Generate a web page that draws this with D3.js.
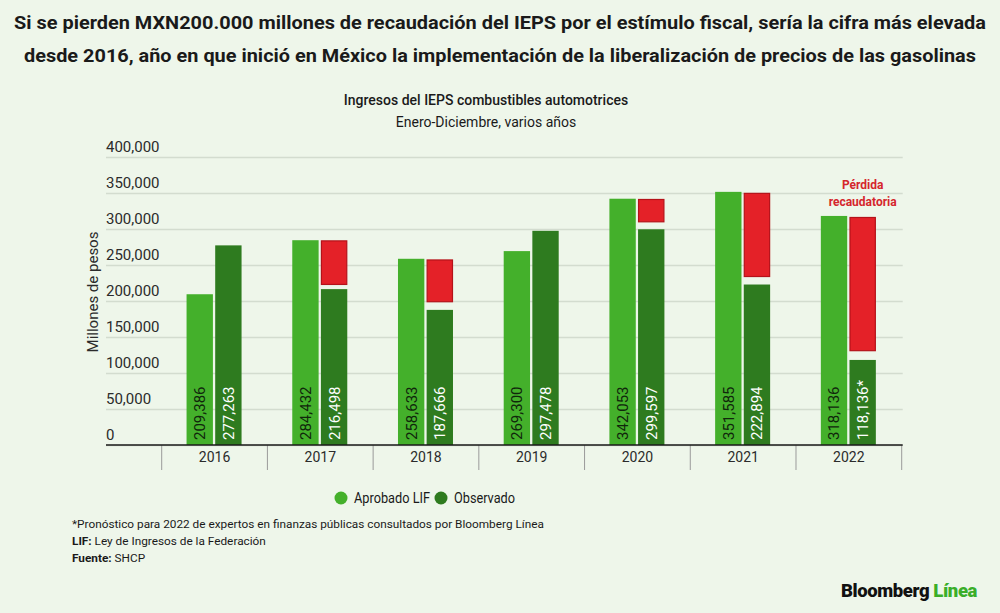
<!DOCTYPE html>
<html>
<head>
<meta charset="utf-8">
<script src="https://cdn.jsdelivr.net/npm/d3@7"></script>
<style>
  html, body { margin: 0; padding: 0; background: #eef6ea; }
  svg { display: block; font-family: Roboto, "Noto Sans", sans-serif; }
</style>
</head>
<body>
<div id="box-div"></div>
<script>
const svgname = 'ieps-svg'

// datos
const years = ['2016', '2017', '2018', '2019', '2020', '2021', '2022']
const aprobadoLIF = [209386, 284432, 258633, 269300, 342053, 351585, 318136]
const observado = [277263, 216498, 187666, 297478, 299597, 222894, 118136]
const observadoLabels = ['277,263', '216,498', '187,666', '297,478', '299,597', '222,894', '118,136*']
// tramo rojo (pérdida recaudatoria): arriba / abajo, en millones de pesos
const perdidaTop = [null, 283500, 257000, null, 341000, 349500, 316000]
const perdidaBottom = [null, 223000, 199000, null, 310000, 234000, 131000]
const yTicks = [0, 50000, 100000, 150000, 200000, 250000, 300000, 350000, 400000]

const titleLines = [
    'Si se pierden MXN200.000 millones de recaudación del IEPS por el estímulo fiscal, sería la cifra más elevada',
    'desde 2016, año en que inició en México la implementación de la liberalización de precios de las gasolinas'
]
const footnotes = [
    ['', '*Pronóstico para 2022 de expertos en finanzas públicas consultados por Bloomberg Línea'],
    ['LIF:', ' Ley de Ingresos de la Federación'],
    ['Fuente:', ' SHCP']
]

const colors = { lif: '#44b02b', obs: '#2e7b1f', red: '#e42128', redStroke: '#b5121a' }

let dms = {
    width: 1000,
    height: 613,
    plotLeft: 106,
    bandLeft: 161.7,
    bandRight: 901.7,
    top: 157,
    bottom: 445
}

const box = d3.select('#box-div').append('svg')
    .attr('id', svgname)
    .attr('width', dms.width)
    .attr('height', dms.height)

box.append('rect')
    .attr('width', dms.width)
    .attr('height', dms.height)
    .attr('fill', '#eef6ea')

// título
box.selectAll('.title')
    .data(titleLines)
    .enter()
    .append('text')
    .attr('class', 'title')
    .attr('x', 500)
    .attr('y', (d, i) => 29 + i * 33)
    .attr('text-anchor', 'middle')
    .attr('font-size', 19)
    .attr('font-weight', 'bold')
    .attr('fill', '#1a1a1a')
    .attr('textLength', (d, i) => i === 0 ? 972 : 952)
    .attr('lengthAdjust', 'spacingAndGlyphs')
    .text(d => d)

box.append('text')
    .attr('x', 486)
    .attr('y', 105)
    .attr('text-anchor', 'middle')
    .attr('font-size', 14)
    .attr('font-weight', 500)
    .attr('fill', '#1a1a1a')
    .text('Ingresos del IEPS combustibles automotrices')

box.append('text')
    .attr('x', 486)
    .attr('y', 127)
    .attr('text-anchor', 'middle')
    .attr('font-size', 14)
    .attr('fill', '#1a1a1a')
    .text('Enero-Diciembre, varios años')

// escalas
const yScale = d3.scaleLinear()
    .domain([0, 400000])
    .range([dms.bottom, dms.top])

const xScale = d3.scaleBand()
    .domain(years)
    .range([dms.bandLeft, dms.bandRight])

const bw = xScale.bandwidth()
const xInner = d3.scaleBand()
    .domain(['lif', 'obs'])
    .range([bw / 2 - 28, bw / 2 + 27])
    .paddingInner(0.08)

const chart = box.append('g')

// líneas de cuadrícula
const yAxis = d3.axisLeft(yScale)
    .tickValues(yTicks)
    .tickSize(-(dms.bandRight + 1 - dms.plotLeft))
    .tickFormat(d3.format(','))

const gy = chart.append('g')
    .attr('class', 'axis-y')
    .attr('transform', `translate(${dms.plotLeft}, 0)`)
    .call(yAxis)
gy.select('.domain').remove()
gy.selectAll('.tick line')
    .attr('stroke', '#d3dccf')
    .attr('stroke-width', 1.3)
gy.selectAll('.tick text')
    .attr('x', 0)
    .attr('dy', '-0.35em')
    .attr('text-anchor', 'start')
    .attr('font-size', 15)
    .attr('font-family', 'Roboto, sans-serif')
    .attr('fill', '#2b2b2b')

chart.append('text')
    .attr('transform', 'translate(98, 292) rotate(-90)')
    .attr('text-anchor', 'middle')
    .attr('font-size', 15)
    .attr('fill', '#2b2b2b')
    .text('Millones de pesos')

// barras
const groups = chart.selectAll('.year')
    .data(years)
    .enter()
    .append('g')
    .attr('class', 'year')
    .attr('transform', d => `translate(${xScale(d)}, 0)`)

groups.append('rect')
    .attr('x', xInner('lif'))
    .attr('width', xInner.bandwidth())
    .attr('y', (d, i) => yScale(aprobadoLIF[i]))
    .attr('height', (d, i) => yScale(0) - yScale(aprobadoLIF[i]))
    .attr('fill', colors.lif)

groups.append('rect')
    .attr('x', xInner('obs'))
    .attr('width', xInner.bandwidth())
    .attr('y', (d, i) => yScale(observado[i]))
    .attr('height', (d, i) => yScale(0) - yScale(observado[i]))
    .attr('fill', colors.obs)

groups.filter((d, i) => perdidaTop[i] !== null)
    .append('rect')
    .attr('x', xInner('obs') + 0.5)
    .attr('width', xInner.bandwidth() - 1)
    .attr('y', d => yScale(perdidaTop[years.indexOf(d)]))
    .attr('height', d => {
        const i = years.indexOf(d)
        return yScale(perdidaBottom[i]) - yScale(perdidaTop[i])
    })
    .attr('fill', colors.red)
    .attr('stroke', colors.redStroke)
    .attr('stroke-width', 1.2)

// etiquetas de valor
groups.append('text')
    .attr('transform', `translate(${xInner('lif') + xInner.bandwidth() / 2}, ${dms.bottom - 5}) rotate(-90)`)
    .attr('dy', '0.36em')
    .attr('font-size', 15)
    .attr('fill', '#10260b')
    .text((d, i) => d3.format(',')(aprobadoLIF[i]))

groups.append('text')
    .attr('transform', `translate(${xInner('obs') + xInner.bandwidth() / 2}, ${dms.bottom - 5}) rotate(-90)`)
    .attr('dy', '0.36em')
    .attr('font-size', 15)
    .attr('fill', '#ffffff')
    .text((d, i) => observadoLabels[i])

// eje x
const xAxis = d3.axisBottom(xScale)
    .tickSize(0)
    .tickPadding(7)

const gx = chart.append('g')
    .attr('class', 'axis-x')
    .attr('transform', `translate(0, ${dms.bottom})`)
    .call(xAxis)
gx.select('.domain').remove()
gx.selectAll('.tick text')
    .attr('font-size', 14)
    .attr('font-family', 'Roboto, sans-serif')
    .attr('fill', '#2b2b2b')

// separadores de categoría
gx.selectAll('.sep')
    .data(years.concat(['end']))
    .enter()
    .append('line')
    .attr('class', 'sep')
    .attr('x1', (d, i) => i < years.length ? xScale(d) : xScale.range()[1])
    .attr('x2', (d, i) => i < years.length ? xScale(d) : xScale.range()[1])
    .attr('y1', 0)
    .attr('y2', 25)
    .attr('stroke', '#9a9a9a')
    .attr('stroke-width', 1)

chart.append('line')
    .attr('x1', dms.plotLeft)
    .attr('x2', dms.bandRight + 1)
    .attr('y1', dms.bottom)
    .attr('y2', dms.bottom)
    .attr('stroke', '#1a1a1a')
    .attr('stroke-width', 1.6)

// anotación
chart.selectAll('.anot')
    .data(['Pérdida', 'recaudatoria'])
    .enter()
    .append('text')
    .attr('x', xScale('2022') + xInner('obs') + xInner.bandwidth() / 2)
    .attr('y', (d, i) => 189 + i * 17)
    .attr('text-anchor', 'middle')
    .attr('font-size', 12)
    .attr('font-weight', 'bold')
    .attr('fill', '#d5252c')
    .text(d => d)

// leyenda
const legendData = [['Aprobado LIF', colors.lif, 76], ['Observado', colors.obs, 61]]
const legend = box.selectAll('.legend')
    .data(legendData)
    .enter()
    .append('g')
    .attr('class', 'legend')
    .attr('transform', (d, i) => `translate(${341 + i * 100}, 498)`)
legend.append('circle')
    .attr('r', 6.5)
    .attr('fill', d => d[1])
legend.append('text')
    .attr('x', 13)
    .attr('dy', '0.36em')
    .attr('font-size', 15)
    .attr('fill', '#1a1a1a')
    .attr('textLength', d => d[2])
    .attr('lengthAdjust', 'spacingAndGlyphs')
    .text(d => d[0])

// notas al pie
const foot = box.selectAll('.foot')
    .data(footnotes)
    .enter()
    .append('text')
    .attr('class', 'foot')
    .attr('x', 72)
    .attr('y', (d, i) => 528 + i * 17)
    .attr('font-size', 11.8)
    .attr('fill', '#1a1a1a')
foot.append('tspan')
    .attr('font-weight', 'bold')
    .text(d => d[0])
foot.append('tspan')
    .text(d => d[1])

// logo
const logo = box.append('text')
    .attr('x', 977)
    .attr('y', 597)
    .attr('text-anchor', 'end')
    .attr('font-size', 18.5)
    .attr('font-weight', 900)
    .attr('letter-spacing', -0.4)
logo.append('tspan').attr('fill', '#111').text('Bloomberg ')
logo.append('tspan').attr('fill', '#3aae2a').text('Línea')
</script>
</body>
</html>
